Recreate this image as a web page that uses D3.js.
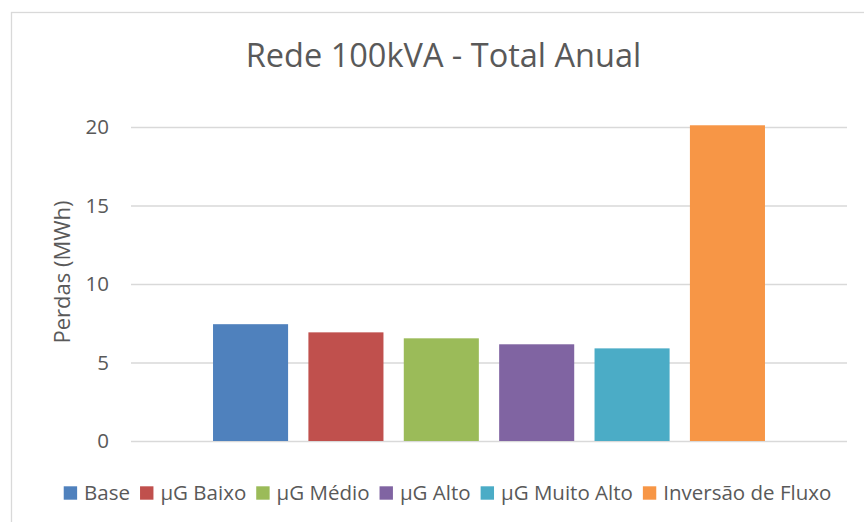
<!DOCTYPE html>
<html>
<head>
<meta charset="utf-8">
<script src="https://cdn.jsdelivr.net/npm/d3@7"></script>
<style>
  html, body { margin: 0; padding: 0; background: #fff; }
  svg { display: block; font-family: "Open Sans", "Noto Sans", sans-serif; }
</style>
</head>
<body>
<svg id="chart" width="864" height="522"></svg>
<script>
// Annual losses of the 100 kVA network per micro-generation scenario
const title = "Rede 100kVA - Total Anual";
const yLabel = "Perdas (MWh)";
const series = ["Base", "µG Baixo", "µG Médio", "µG Alto", "µG Muito Alto", "Inversão de Fluxo"];
const values = [7.44, 6.92, 6.54, 6.16, 5.90, 20.11];
const colors = ["#4F81BD", "#C0504D", "#9BBB59", "#8064A2", "#4BACC6", "#F79646"];
const yTicks = [0, 5, 10, 15, 20];

const svg = d3.select("#chart");
const W = 864, H = 522;
const plot = { left: 131, right: 847, top: 127, bottom: 441 };
const textColor = "#595959";
const gridColor = "#d9d9d9";

// outer chart frame
svg.append("rect")
  .attr("x", 11.5).attr("y", 12.5)
  .attr("width", W + 20).attr("height", H + 20)
  .attr("fill", "#fff")
  .attr("stroke", gridColor).attr("stroke-width", 1.3);

const y = d3.scaleLinear().domain([0, 20]).range([plot.bottom, plot.top]);
const x = d3.scaleBand().domain(series)
  .range([plot.left, plot.right])
  .paddingInner(0.213).paddingOuter(0.86);

// gridlines and tick labels through a left axis
const yAxis = d3.axisLeft(y)
  .tickValues(yTicks)
  .tickSize(-(plot.right - plot.left))
  .tickPadding(22)
  .tickFormat(d3.format("d"));

const gAxis = svg.append("g")
  .attr("transform", `translate(${plot.left},0)`)
  .call(yAxis);
gAxis.select(".domain").remove();
gAxis.selectAll(".tick line")
  .attr("stroke", gridColor).attr("stroke-width", 1.4);
gAxis.selectAll(".tick text")
  .attr("fill", textColor)
  .style("font-size", "20.5px")
  .style("font-family", "\"Open Sans\", sans-serif");

// bars
svg.append("g").selectAll("rect")
  .data(series.map((s, i) => ({ s, v: values[i], c: colors[i] })))
  .join("rect")
  .attr("x", d => x(d.s))
  .attr("y", d => y(d.v))
  .attr("width", x.bandwidth())
  .attr("height", d => y(0) - y(d.v))
  .attr("fill", d => d.c);

// title
svg.append("text")
  .attr("x", 443.5).attr("y", 67)
  .attr("text-anchor", "middle")
  .attr("fill", textColor)
  .style("font-size", "32.5px")
  .text(title);

// y-axis title
svg.append("text")
  .attr("transform", `translate(70,272) rotate(-90)`)
  .attr("text-anchor", "middle")
  .attr("fill", textColor)
  .style("font-size", "22px")
  .text(yLabel);

// legend, laid out item by item and centred below the plot
const legend = svg.append("g");
const sw = 13.4, gapIn = 7, gapOut = 10, legendY = 493;
let cx = 0;
series.forEach((s, i) => {
  const g = legend.append("g").attr("transform", `translate(${cx},0)`);
  g.append("rect")
    .attr("x", 0).attr("y", legendY - sw / 2)
    .attr("width", sw).attr("height", sw)
    .attr("fill", colors[i]);
  const t = g.append("text")
    .attr("x", sw + gapIn).attr("y", legendY)
    .attr("dy", "0.35em")
    .attr("fill", textColor)
    .style("font-size", "20.5px")
    .text(s);
  cx += sw + gapIn + t.node().getComputedTextLength() + gapOut;
});
const legendW = cx - gapOut;
legend.attr("transform", `translate(${447.5 - legendW / 2},0)`);
</script>
</body>
</html>
